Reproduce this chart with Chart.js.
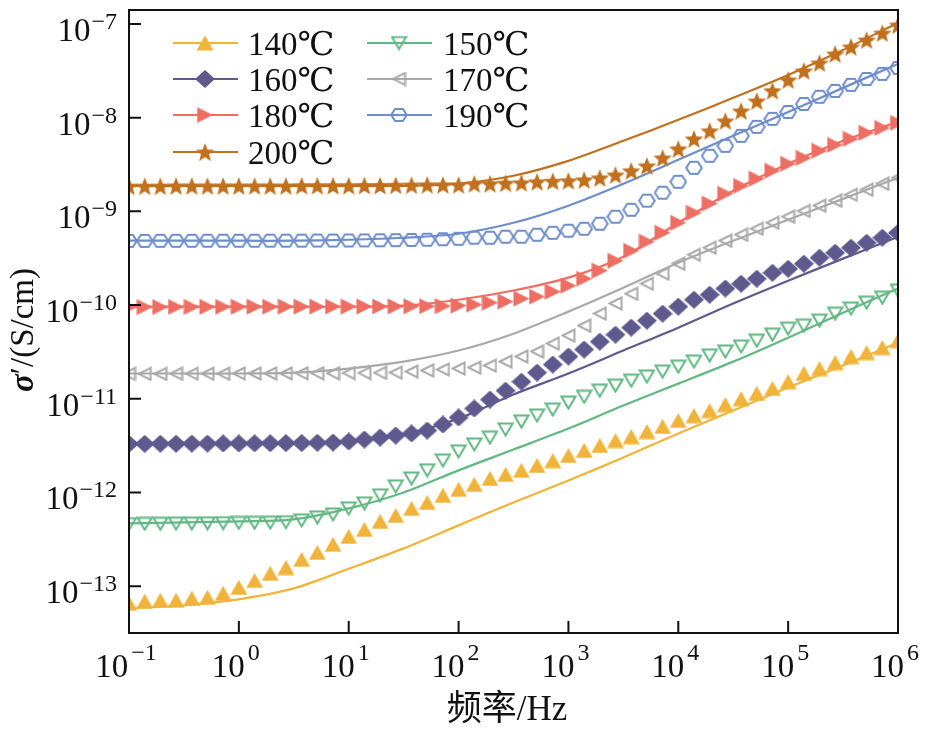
<!DOCTYPE html>
<html>
<head>
<meta charset="utf-8">
<script src="https://cdn.jsdelivr.net/npm/chart.js@4.4.0/dist/chart.umd.min.js"></script>
<style>
html,body{margin:0;padding:0;background:#fff;}
#wrap{width:935px;height:735px;position:relative;}
canvas{display:block;}
</style>
</head>
<body>
<div id="wrap"><canvas id="c" width="935" height="735"></canvas></div>
<script>
// ---------- data ----------
const seriesLabels = ['140\u2103','150\u2103','160\u2103','170\u2103','180\u2103','190\u2103','200\u2103'];

// measured frequencies (Hz), 7 points per decade
const freq = [0.1,0.139,0.193,0.268,0.373,0.518,0.72,
  1,1.39,1.93,2.68,3.73,5.18,7.2,
  10,13.9,19.3,26.8,37.3,51.8,72,
  100,139,193,268,373,518,720,
  1000,1390,1930,2680,3730,5180,7200,
  10000,13900,19300,26800,37300,51800,72000,
  100000,139000,193000,268000,373000,518000,720000,
  1000000];

// fit-curve frequencies (Hz)
const freqFit = [0.1,0.316,1,3.16,10,31.6,100,316,1000,3160,10000,31600,100000,316000,1000000];

// measured sigma' (S/cm)
const s140 = [6.56e-14,6.89e-14,7.06e-14,7.06e-14,7.41e-14,7.60e-14,8.38e-14,9.71e-14,1.15e-13,1.37e-13,
  1.58e-13,1.93e-13,2.29e-13,2.79e-13,3.40e-13,4.04e-13,4.91e-13,5.69e-13,6.75e-13,7.82e-13,
  9.29e-13,1.08e-12,1.22e-12,1.41e-12,1.56e-12,1.72e-12,1.94e-12,2.19e-12,2.48e-12,2.81e-12,
  3.17e-12,3.58e-12,3.95e-12,4.47e-12,5.06e-12,5.86e-12,6.62e-12,7.48e-12,8.67e-12,1.00e-11,
  1.14e-11,1.29e-11,1.52e-11,1.86e-11,2.10e-11,2.43e-11,2.82e-11,3.11e-11,3.52e-11,4.17e-11];
const s150 = [4.60e-13,4.62e-13,4.63e-13,4.65e-13,4.66e-13,4.68e-13,4.70e-13,4.72e-13,4.74e-13,4.76e-13,
  4.82e-13,5.03e-13,5.41e-13,5.82e-13,6.75e-13,7.64e-13,9.29e-13,1.16e-12,1.41e-12,1.72e-12,
  2.19e-12,2.74e-12,3.25e-12,3.85e-12,4.70e-12,5.71e-12,6.62e-12,7.67e-12,9.10e-12,1.05e-11,
  1.22e-11,1.38e-11,1.56e-11,1.73e-11,1.95e-11,2.20e-11,2.49e-11,2.89e-11,3.19e-11,3.61e-11,
  4.17e-11,4.83e-11,5.60e-11,6.03e-11,6.82e-11,8.09e-11,9.16e-11,1.06e-10,1.20e-10,1.43e-10];
const s160 = [3.30e-12,3.30e-12,3.31e-12,3.31e-12,3.32e-12,3.32e-12,3.33e-12,3.33e-12,3.34e-12,3.35e-12,
  3.36e-12,3.37e-12,3.39e-12,3.41e-12,3.50e-12,3.67e-12,3.85e-12,4.05e-12,4.26e-12,4.58e-12,
  5.31e-12,6.31e-12,7.87e-12,9.80e-12,1.22e-11,1.52e-11,1.90e-11,2.32e-11,2.82e-11,3.35e-11,
  4.07e-11,4.83e-11,5.74e-11,6.82e-11,8.09e-11,9.61e-11,1.14e-10,1.29e-10,1.50e-10,1.69e-10,
  1.91e-10,2.21e-10,2.44e-10,2.76e-10,3.20e-10,3.62e-10,4.09e-10,4.62e-10,5.23e-10,5.91e-10];
const s170 = [1.84e-11,1.84e-11,1.84e-11,1.85e-11,1.85e-11,1.85e-11,1.85e-11,1.86e-11,1.86e-11,1.86e-11,
  1.86e-11,1.87e-11,1.87e-11,1.87e-11,1.88e-11,1.88e-11,1.89e-11,1.90e-11,1.95e-11,2.00e-11,
  2.05e-11,2.10e-11,2.15e-11,2.26e-11,2.49e-11,2.82e-11,3.19e-11,3.88e-11,4.72e-11,6.03e-11,
  8.09e-11,1.04e-10,1.32e-10,1.69e-10,2.16e-10,2.76e-10,3.44e-10,4.09e-10,4.86e-10,5.63e-10,
  6.52e-10,7.55e-10,8.76e-10,1.01e-9,1.15e-9,1.30e-9,1.50e-9,1.70e-9,1.97e-9,2.28e-9];
const s180 = [9.50e-11,9.52e-11,9.52e-11,9.55e-11,9.55e-11,9.57e-11,9.57e-11,9.58e-11,9.60e-11,9.60e-11,
  9.61e-11,9.61e-11,9.62e-11,9.63e-11,9.63e-11,9.65e-11,9.66e-11,9.68e-11,9.70e-11,9.72e-11,
  9.75e-11,9.86e-11,1.01e-10,1.06e-10,1.09e-10,1.17e-10,1.23e-10,1.39e-10,1.61e-10,1.91e-10,
  2.33e-10,2.97e-10,3.80e-10,4.74e-10,5.91e-10,7.55e-10,9.66e-10,1.21e-9,1.54e-9,1.87e-9,
  2.23e-9,2.71e-9,3.22e-9,3.72e-9,4.43e-9,5.13e-9,5.94e-9,6.89e-9,7.78e-9,8.81e-9];
const s190 = [4.84e-10,4.84e-10,4.85e-10,4.85e-10,4.85e-10,4.86e-10,4.86e-10,4.86e-10,4.86e-10,4.87e-10,
  4.87e-10,4.87e-10,4.88e-10,4.88e-10,4.89e-10,4.90e-10,4.91e-10,4.93e-10,4.95e-10,4.98e-10,
  5.04e-10,5.10e-10,5.23e-10,5.23e-10,5.36e-10,5.36e-10,5.63e-10,5.91e-10,6.21e-10,6.52e-10,
  7.38e-10,8.76e-10,1.04e-9,1.30e-9,1.58e-9,2.07e-9,2.92e-9,3.92e-9,5.00e-9,6.40e-9,
  7.98e-9,9.71e-9,1.15e-8,1.40e-8,1.67e-8,1.93e-8,2.24e-8,2.59e-8,2.93e-8,3.40e-8];
const s200 = [1.86e-9,1.86e-9,1.86e-9,1.87e-9,1.87e-9,1.87e-9,1.87e-9,1.87e-9,1.87e-9,1.87e-9,
  1.87e-9,1.88e-9,1.88e-9,1.88e-9,1.88e-9,1.89e-9,1.89e-9,1.90e-9,1.91e-9,1.92e-9,
  1.92e-9,1.92e-9,1.97e-9,1.97e-9,2.00e-9,2.02e-9,2.07e-9,2.10e-9,2.12e-9,2.17e-9,
  2.28e-9,2.45e-9,2.71e-9,3.06e-9,3.72e-9,4.65e-9,5.94e-9,7.23e-9,9.24e-9,1.18e-8,
  1.51e-8,1.94e-8,2.53e-8,3.16e-8,3.84e-8,4.79e-8,5.69e-8,6.75e-8,8.02e-8,9.76e-8];

// fitted sigma' (S/cm)
const fit140 = [5.79e-14,6.24e-14,7.23e-14,9.45e-14,1.53e-13,2.53e-13,4.45e-13,7.82e-13,1.34e-12,2.36e-12,4.26e-12,7.48e-12,1.32e-11,2.26e-11,3.97e-11];
const fit150 = [4.68e-13,4.79e-13,4.91e-13,5.15e-13,6.75e-13,1.00e-12,1.72e-12,2.87e-12,4.81e-12,8.47e-12,1.45e-11,2.49e-11,4.49e-11,8.30e-11,1.50e-10];
const fit160 = [3.33e-12,3.33e-12,3.33e-12,3.33e-12,3.50e-12,4.15e-12,6.15e-12,1.11e-11,1.86e-11,3.27e-11,5.74e-11,1.04e-10,1.82e-10,3.13e-10,5.36e-10];
const fit170 = [1.86e-11,1.86e-11,1.86e-11,1.90e-11,2.10e-11,2.49e-11,3.27e-11,4.95e-11,8.51e-11,1.53e-10,2.83e-10,4.86e-10,8.13e-10,1.36e-9,2.28e-9];
const fit180 = [9.61e-11,9.61e-11,9.61e-11,9.61e-11,9.61e-11,9.86e-11,1.14e-10,1.43e-10,1.96e-10,3.28e-10,7.55e-10,1.66e-9,3.22e-9,5.66e-9,9.02e-9];
const fit190 = [4.86e-10,4.86e-10,4.86e-10,4.86e-10,4.98e-10,5.23e-10,5.77e-10,7.55e-10,1.15e-9,1.97e-9,3.55e-9,6.40e-9,1.15e-8,2.08e-8,3.75e-8];
const fit200 = [1.87e-9,1.87e-9,1.87e-9,1.87e-9,1.87e-9,1.87e-9,1.97e-9,2.40e-9,3.46e-9,5.66e-9,9.48e-9,1.63e-8,2.86e-8,5.28e-8,1.03e-7];

// axis tick exponents (labels 10^n)
const xTickExp = [-1,0,1,2,3,4,5,6];
const yTickExp = [-13,-12,-11,-10,-9,-8,-7];
const xTitle = '\u9891\u7387/Hz';
const yTitleSym = '\u03c3';
const yTitleRest = '\u2032/(S/cm)';

// ---------- styling ----------
const colors = ['#F1B43B','#62B883','#5F5A8E','#A9A9A9','#EF6E64','#6E8DCB','#C1701D'];
const SERIF = '"Liberation Serif","Times New Roman","DejaVu Serif",serif';

function mk(w,h,fn){const c=document.createElement('canvas');c.width=w;c.height=h;const g=c.getContext('2d');fn(g,w,h);return c;}
const markers = [
  mk(18,16,(g,w,h)=>{g.fillStyle=colors[0];g.beginPath();g.moveTo(w/2,0.5);g.lineTo(w-0.5,h-0.5);g.lineTo(0.5,h-0.5);g.closePath();g.fill();}),
  mk(17,15,(g,w,h)=>{g.strokeStyle=colors[1];g.lineWidth=2;g.lineJoin='miter';g.beginPath();g.moveTo(1.5,1.5);g.lineTo(w-1.5,1.5);g.lineTo(w/2,h-1.5);g.closePath();g.stroke();}),
  mk(20,18,(g,w,h)=>{g.fillStyle=colors[2];g.beginPath();g.moveTo(w/2,0);g.lineTo(w,h/2);g.lineTo(w/2,h);g.lineTo(0,h/2);g.closePath();g.fill();}),
  mk(15,15,(g,w,h)=>{g.strokeStyle=colors[3];g.lineWidth=2;g.beginPath();g.moveTo(1.5,h/2);g.lineTo(w-1.5,1.5);g.lineTo(w-1.5,h-1.5);g.closePath();g.stroke();}),
  mk(17,17,(g,w,h)=>{g.fillStyle=colors[4];g.beginPath();g.moveTo(0.5,0.5);g.lineTo(w-0.5,h/2);g.lineTo(0.5,h-0.5);g.closePath();g.fill();}),
  mk(18,16,(g,w,h)=>{g.strokeStyle=colors[5];g.lineWidth=2;g.beginPath();const R=7.8,cx=w/2,cy=h/2;for(let k=0;k<6;k++){const a=k*Math.PI/3;const px=cx+R*Math.cos(a),py=cy+R*Math.sin(a)*0.9;k?g.lineTo(px,py):g.moveTo(px,py);}g.closePath();g.stroke();}),
  mk(20,19,(g,w,h)=>{g.fillStyle=colors[6];g.beginPath();const cx=w/2,cy=10.5,R=9.8,r=4.2;for(let k=0;k<10;k++){const a=-Math.PI/2+k*Math.PI/5;const rr=k%2?r:R;const px=cx+rr*Math.cos(a),py=cy+rr*Math.sin(a);k?g.lineTo(px,py):g.moveTo(px,py);}g.closePath();g.fill();})
];

const measured = [s140,s150,s160,s170,s180,s190,s200];
const fits = [fit140,fit150,fit160,fit170,fit180,fit190,fit200];

const datasets = [];
measured.forEach((arr,k)=>{
  datasets.push({
    label: seriesLabels[k],
    data: freq.map((f,i)=>({x:f,y:arr[i]})),
    showLine:false,
    pointStyle: markers[k],
    pointRadius: 9,
    pointHoverRadius: 9,
    borderColor: colors[k],
    backgroundColor: colors[k],
    clip: 0,
    order: 1
  });
});
fits.forEach((arr,k)=>{
  datasets.push({
    label: seriesLabels[k]+' fit',
    data: freqFit.map((f,i)=>({x:f,y:arr[i]})),
    showLine:true,
    pointRadius:0,
    borderColor: colors[k],
    borderWidth: 2.2,
    tension: 0.3,
    fill:false,
    clip: 0,
    order: 2
  });
});

function powLabel(ctx, e, x, yBase, align, expRaise, gap){
  const big = '33px '+SERIF, small = '24px '+SERIF;
  const es = e<0 ? '\u2212'+(-e) : String(e);
  ctx.font = big; const w1 = ctx.measureText('10').width;
  ctx.font = small; const w2 = ctx.measureText(es).width;
  const tot = w1+gap+w2;
  const x0 = align==='right' ? x-tot : x-tot/2;
  ctx.textAlign='left'; ctx.textBaseline='alphabetic'; ctx.fillStyle='#111';
  ctx.font = big; ctx.fillText('10', x0, yBase);
  ctx.font = small; ctx.fillText(es, x0+w1+gap, yBase-expRaise);
}

const deco = {
  id:'deco',
  afterDatasetsDraw(chart){
    const {ctx, chartArea:a, scales} = chart;
    const xs = scales.x, ys = scales.y;
    ctx.save();
    // frame
    ctx.strokeStyle='#111'; ctx.lineWidth=2;
    ctx.strokeRect(a.left, a.top, a.right-a.left, a.bottom-a.top);
    // inward ticks
    ctx.beginPath();
    xTickExp.forEach(e=>{const px=xs.getPixelForValue(Math.pow(10,e));ctx.moveTo(px,a.bottom);ctx.lineTo(px,a.bottom-12);});
    yTickExp.forEach(e=>{const py=ys.getPixelForValue(Math.pow(10,e));ctx.moveTo(a.left,py);ctx.lineTo(a.left+12,py);});
    ctx.stroke();
    // tick labels
    xTickExp.forEach(e=>{const px=xs.getPixelForValue(Math.pow(10,e));powLabel(ctx,e,px-3,a.bottom+44,'center',17,3);});
    yTickExp.forEach(e=>{const py=ys.getPixelForValue(Math.pow(10,e));powLabel(ctx,e,a.left-12,py+17,'right',12,1);});
    // x title
    ctx.fillStyle='#111';
    ctx.font='35px '+SERIF+',"Noto Sans CJK SC"';
    ctx.textAlign='center'; ctx.textBaseline='middle';
    ctx.fillText(xTitle, 507, 711);
    // y title
    ctx.save();
    ctx.translate(24, 330);
    ctx.rotate(-Math.PI/2);
    const f1='italic bold 33px '+SERIF, f2='33px '+SERIF;
    ctx.font=f1; const w1=ctx.measureText(yTitleSym).width;
    ctx.font=f2; const w2=ctx.measureText(yTitleRest).width;
    const x0=-(w1+w2)/2;
    ctx.textAlign='left'; ctx.textBaseline='middle';
    ctx.font=f1; ctx.fillText(yTitleSym, x0, 0);
    ctx.font=f2; ctx.fillText(yTitleRest, x0+w1, 0);
    ctx.restore();
    // legend
    const rows=[43,79,115,152];
    const cols=[{l:173,r:238,m:205,t:248},{l:367,r:432,m:399,t:443}];
    const place=[[0,0],[1,0],[0,1],[1,1],[0,2],[1,2],[0,3]];
    seriesLabels.forEach((lab,k)=>{
      const c=cols[place[k][0]], cy=rows[place[k][1]];
      ctx.strokeStyle=colors[k]; ctx.lineWidth=2.2;
      ctx.beginPath(); ctx.moveTo(c.l,cy); ctx.lineTo(c.r,cy); ctx.stroke();
      const m=markers[k];
      ctx.drawImage(m, c.m-m.width/2, cy-m.height/2);
      ctx.fillStyle='#111'; ctx.font='33px '+SERIF+',"DejaVu Serif","Noto Sans CJK SC"';
      ctx.textAlign='left'; ctx.textBaseline='alphabetic';
      ctx.fillText(lab, c.t, cy+12);
    });
    ctx.restore();
  }
};

new Chart(document.getElementById('c'), {
  type:'scatter',
  data:{datasets},
  options:{
    responsive:false,
    animation:false,
    devicePixelRatio:1,
    layout:{padding:{left:129,right:37,top:9,bottom:102}},
    plugins:{legend:{display:false},tooltip:{enabled:false}},
    scales:{
      x:{type:'logarithmic',min:0.1,max:1e6,
         ticks:{display:false},grid:{display:false,drawTicks:false},border:{display:false},title:{display:false}},
      y:{type:'logarithmic',min:3.16e-14,max:1.41e-7,
         ticks:{display:false},grid:{display:false,drawTicks:false},border:{display:false},title:{display:false}}
    }
  },
  plugins:[deco]
});
</script>
</body>
</html>
